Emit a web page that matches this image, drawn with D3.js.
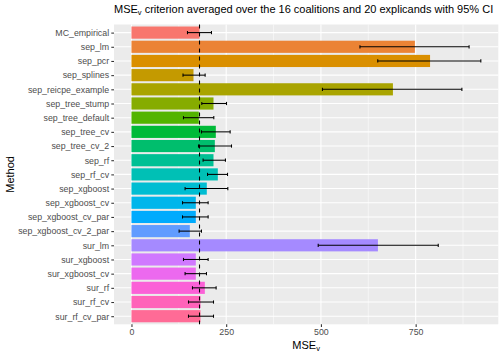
<!DOCTYPE html>
<html><head><meta charset="utf-8">
<script src="https://cdn.jsdelivr.net/npm/d3@7"></script>
<style>body{margin:0;background:#fff}svg{display:block}text{font-family:"Liberation Sans",Arial,sans-serif}</style>
</head><body><div id="chart"></div>
<script>
const methods = ["MC_empirical","sep_lm","sep_pcr","sep_splines","sep_reicpe_example","sep_tree_stump","sep_tree_default","sep_tree_cv","sep_tree_cv_2","sep_rf","sep_rf_cv","sep_xgboost","sep_xgboost_cv","sep_xgboost_cv_par","sep_xgboost_cv_2_par","sur_lm","sur_xgboost","sur_xgboost_cv","sur_rf","sur_rf_cv","sur_rf_cv_par"];
const mseValues = [179.6,748,788,163.7,690,216.5,177.7,222.6,220,216.5,227.9,198.8,169.8,169.8,154,650.4,169.8,169.8,193.6,182.2,182.2];
const ciLower = [147.8,603,650,136,504,185.6,137.3,184.8,176.9,189,200.7,141.5,134.7,134.7,125.7,492.8,137.3,141.5,161,150.5,150.5];
const ciUpper = [211.2,891,922,194.4,872,250.8,217.3,260.4,264,248,253.5,254.3,202.3,202.3,184.8,809.6,202.3,198,223.4,216.5,216.5];
const xTicks = [0,250,500,750];
const xMinor = [125,375,625,875];
const referenceValue = 179.6;

// ggplot-like hue palette (polar Luv)
function hclLuv(h, c, l) {
  const hr = h * Math.PI / 180, U = c * Math.cos(hr), V = c * Math.sin(hr);
  const Xn = 95.047, Yn = 100, Zn = 108.883;
  const den = Xn + 15 * Yn + 3 * Zn, un = 4 * Xn / den, vn = 9 * Yn / den;
  const Y = l > 8 ? Yn * Math.pow((l + 16) / 116, 3) : Yn * l / 903.296;
  const u = U / (13 * l) + un, v = V / (13 * l) + vn;
  const X = 9 * Y * u / (4 * v), Z = -X / 3 - 5 * Y + 3 * Y / v;
  const x = X / 100, y = Y / 100, z = Z / 100;
  const lin = [3.240479*x - 1.537150*y - 0.498535*z, -0.969256*x + 1.875992*y + 0.041556*z, 0.055648*x - 0.204043*y + 1.057311*z];
  const g = lin.map(t => { t = t <= 0.0031308 ? 12.92 * t : 1.055 * Math.pow(t, 1 / 2.4) - 0.055; return Math.round(Math.max(0, Math.min(1, t)) * 255); });
  return d3.rgb(g[0], g[1], g[2]).formatHex();
}
const n = methods.length;
const colors = methods.map((_, i) => hclLuv(15 + i * 360 / n, 100, 65));

const W = 504, H = 360;
const panel = {left: 114, right: 498.3, top: 24.5, bottom: 324.3};
const svg = d3.select("#chart").append("svg").attr("width", W).attr("height", H);

const xMax = d3.max(ciUpper);
const x = d3.scaleLinear().domain([-0.05 * xMax, 1.05 * xMax]).range([panel.left, panel.right]);
const step = (panel.bottom - panel.top) / (n + 1.2);
const y = d3.scalePoint().domain(methods).range([panel.top + 0.6 * step, panel.bottom - 0.6 * step]);
const bw = 0.9 * step;

svg.append("rect").attr("x", panel.left).attr("y", panel.top).attr("width", panel.right - panel.left).attr("height", panel.bottom - panel.top).attr("fill", "#EBEBEB");
const grid = svg.append("g");
grid.selectAll(".minor").data(xMinor).enter().append("line").attr("x1", d => x(d)).attr("x2", d => x(d)).attr("y1", panel.top).attr("y2", panel.bottom).attr("stroke", "#fff").attr("stroke-width", 0.53);
grid.selectAll(".majorx").data(xTicks).enter().append("line").attr("x1", d => x(d)).attr("x2", d => x(d)).attr("y1", panel.top).attr("y2", panel.bottom).attr("stroke", "#fff").attr("stroke-width", 1.07);
grid.selectAll(".majory").data(methods).enter().append("line").attr("x1", panel.left).attr("x2", panel.right).attr("y1", d => y(d)).attr("y2", d => y(d)).attr("stroke", "#fff").attr("stroke-width", 1.07);

svg.append("g").selectAll("rect").data(methods).enter().append("rect")
  .attr("x", x(0)).attr("y", d => y(d) - bw / 2).attr("width", (d, i) => x(mseValues[i]) - x(0)).attr("height", bw).attr("fill", (d, i) => colors[i]);

const capH = 3.2;
const eb = svg.append("g").attr("stroke", "#000").attr("stroke-width", 1.07);
methods.forEach((m, i) => {
  const cy = y(m);
  eb.append("line").attr("x1", x(ciLower[i])).attr("x2", x(ciUpper[i])).attr("y1", cy).attr("y2", cy);
  eb.append("line").attr("x1", x(ciLower[i])).attr("x2", x(ciLower[i])).attr("y1", cy - capH / 2).attr("y2", cy + capH / 2);
  eb.append("line").attr("x1", x(ciUpper[i])).attr("x2", x(ciUpper[i])).attr("y1", cy - capH / 2).attr("y2", cy + capH / 2);
});

svg.append("line").attr("x1", x(referenceValue)).attr("x2", x(referenceValue)).attr("y1", panel.top).attr("y2", panel.bottom)
  .attr("stroke", "#000").attr("stroke-width", 1.07).attr("stroke-dasharray", "4,4");

// axes
const xAxis = svg.append("g").attr("transform", `translate(0,${panel.bottom})`).call(d3.axisBottom(x).tickValues(xTicks).tickSize(2.7).tickPadding(2.2));
const yAxis = svg.append("g").attr("transform", `translate(${panel.left},0)`).call(d3.axisLeft(y).tickSize(2.7).tickPadding(2.2));
[xAxis, yAxis].forEach(a => {
  a.select(".domain").remove();
  a.selectAll(".tick line").attr("stroke", "#333333").attr("stroke-width", 1.07);
  a.selectAll(".tick text").attr("fill", "#4D4D4D").attr("font-size", "8.8px").attr("font-family", '"Liberation Sans",Arial,sans-serif');
});

// titles
const title = svg.append("text").attr("x", panel.left).attr("y", 12.5).attr("font-size", "11px").attr("fill", "#000");
title.append("tspan").text("MSE");
title.append("tspan").attr("dy", 2.5).attr("font-size", "7.5px").text("v");
title.append("tspan").attr("dy", -2.5).text(" criterion averaged over the 16 coalitions and 20 explicands with 95% CI");

const xt = svg.append("text").attr("x", (panel.left + panel.right) / 2).attr("y", 348.5).attr("text-anchor", "middle").attr("font-size", "11px").attr("fill", "#000");
xt.append("tspan").text("MSE");
xt.append("tspan").attr("dy", 2.5).attr("font-size", "7.5px").text("v");

svg.append("text").attr("transform", `translate(13.5,${(panel.top + panel.bottom) / 2}) rotate(-90)`).attr("text-anchor", "middle")
  .attr("font-size", "11px").attr("fill", "#000").text("Method");
</script></body></html>
